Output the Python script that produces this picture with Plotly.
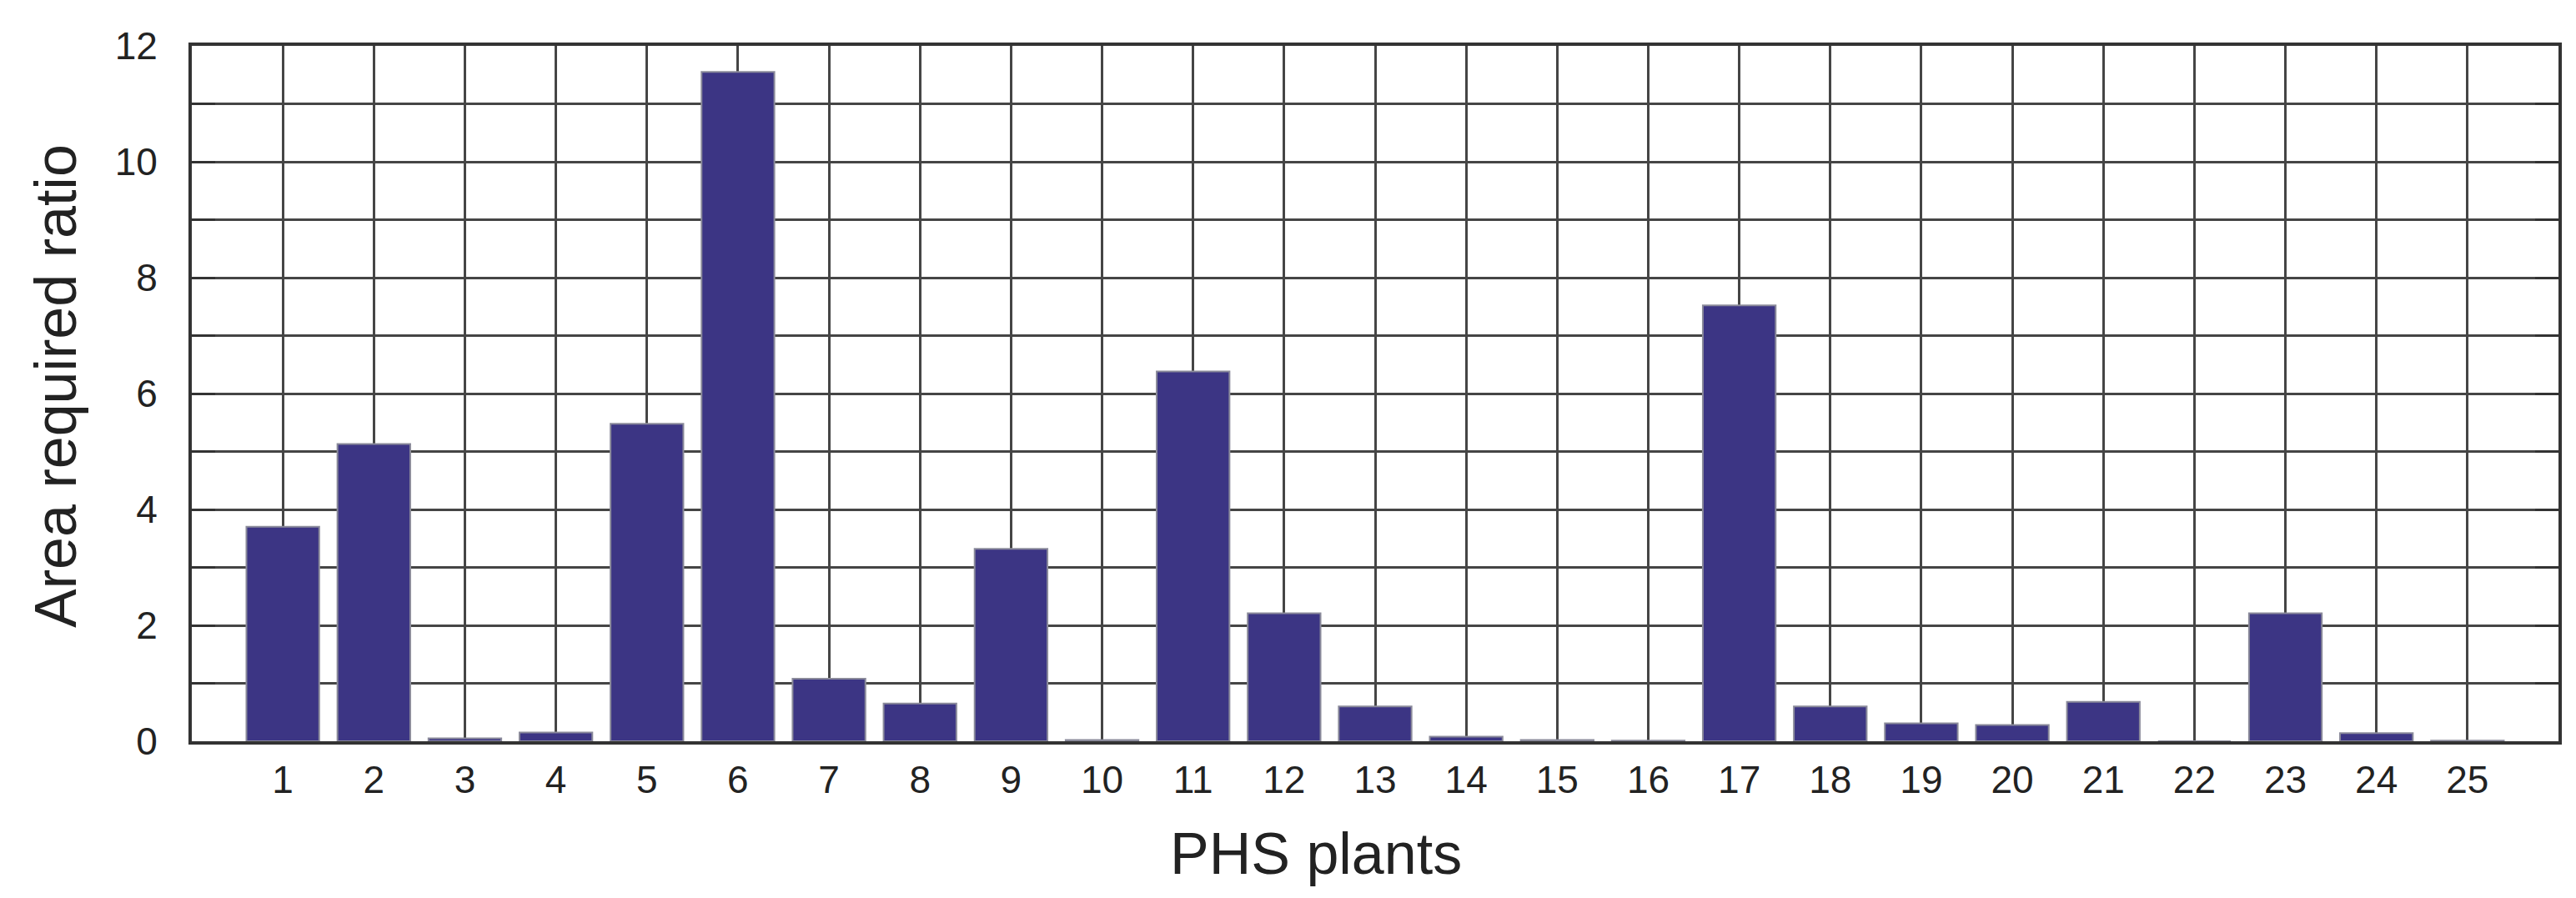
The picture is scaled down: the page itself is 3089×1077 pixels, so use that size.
import plotly.graph_objects as go

# PHS plant index and the required area ratio
plants = list(range(1, 26))
area_ratio = [3.70, 5.13, 0.05, 0.15, 5.48, 11.55, 1.08, 0.65, 3.32, 0.02,
              6.38, 2.21, 0.60, 0.08, 0.02, 0.01, 7.52, 0.60, 0.31, 0.28,
              0.68, 0.00, 2.21, 0.14, 0.01]

y_tickvals = list(range(0, 13))
y_ticktext = ["0", "", "2", "", "4", "", "6", "", "8", "", "10", "", "12"]

font_family = "Liberation Sans, Arial, sans-serif"
grid_color = "#454545"

fig = go.Figure()

fig.add_trace(
    go.Bar(
        x=plants,
        y=area_ratio,
        width=0.8,
        marker=dict(color="#3c3584", line=dict(color="#8a8a9a", width=2)),
        showlegend=False,
    )
)

# axis titles as annotations so they sit where the original puts them
fig.add_annotation(
    text="PHS plants", xref="paper", yref="paper", x=0.475, y=-0.162,
    xanchor="center", yanchor="middle", showarrow=False,
    font=dict(size=70, color="#222222"),
)
fig.add_annotation(
    text="Area required ratio", xref="paper", yref="paper", x=-0.0574, y=0.511,
    xanchor="center", yanchor="middle", showarrow=False, textangle=-90,
    font=dict(size=70, color="#222222"),
)

fig.update_layout(
    width=3089,
    height=1077,
    paper_bgcolor="white",
    plot_bgcolor="white",
    margin=dict(l=222, r=29, t=47, b=196),
    font=dict(family=font_family, color="#222222"),
    xaxis=dict(
        range=[0, 26],
        tickmode="array",
        tickvals=plants,
        ticktext=[str(p) for p in plants],
        tickfont=dict(size=46),
        ticklabelstandoff=3,
        showgrid=True,
        gridcolor=grid_color,
        gridwidth=2.8,
        showline=True,
        linecolor="#333333",
        linewidth=4,
        mirror=True,
        zeroline=False,
    ),
    yaxis=dict(
        range=[0, 12],
        tickmode="array",
        tickvals=y_tickvals,
        ticktext=y_ticktext,
        tickfont=dict(size=46),
        ticks="inside",
        ticklen=28,
        tickwidth=3,
        tickcolor="#333333",
        ticklabelstandoff=28,
        showgrid=True,
        gridcolor=grid_color,
        gridwidth=2.8,
        showline=True,
        linecolor="#333333",
        linewidth=4,
        mirror="ticks",
        zeroline=False,
    ),
)

fig.write_html("out.html")
